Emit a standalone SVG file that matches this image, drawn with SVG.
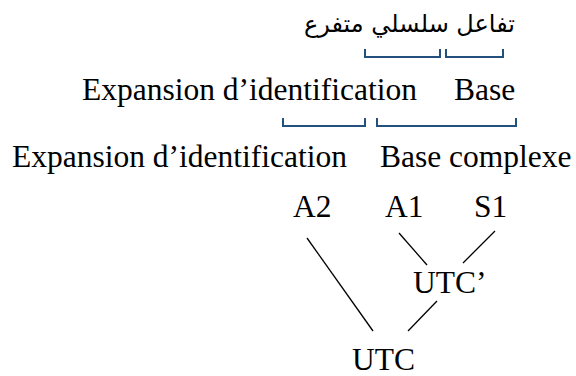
<svg xmlns="http://www.w3.org/2000/svg" width="576" height="376" viewBox="0 0 576 376">
<style>
text{font-family:'Liberation Serif','Times New Roman','DejaVu Serif',serif;font-size:31.5px;fill:#000}
text.ar{font-family:'DejaVu Sans','Noto Sans',sans-serif;font-size:24px}
.br{fill:none;stroke:#24507e;stroke-width:2}
.ln{stroke:#000;stroke-width:1.3}
</style>
<rect width="576" height="376" fill="#fff"/>
<g id="arabic"><text class="ar" x="515" y="32" text-anchor="end">تفاعل سلسلي متفرع</text></g>
<g id="brackets1">
<path class="br" d="M365 49V57H440V49"/>
<path class="br" d="M446 49V57H503V49"/>
</g>
<g id="row2">
<text x="82" y="100">Expansion d’identification</text>
<text x="454" y="100">Base</text>
</g>
<g id="brackets2">
<path class="br" d="M283 118V126H365V118"/>
<path class="br" d="M377 118V126H516V118"/>
</g>
<g id="row3">
<text x="12" y="167">Expansion d’identification</text>
<text x="380" y="167">Base complexe</text>
</g>
<g id="A2"><text x="293" y="217">A2</text></g>
<g id="A1"><text x="385" y="217">A1</text></g>
<g id="S1"><text x="474" y="217">S1</text></g>
<g id="UTCp"><text x="413" y="293">UTC’</text></g>
<g id="UTC"><text x="352" y="370">UTC</text></g>
<g id="connectors">
<line class="ln" x1="307" y1="238" x2="373" y2="331"/>
<line class="ln" x1="399" y1="233" x2="427" y2="265"/>
<line class="ln" x1="495" y1="231" x2="463" y2="263"/>
<line class="ln" x1="437" y1="301" x2="408" y2="331"/>
</g>
</svg>
